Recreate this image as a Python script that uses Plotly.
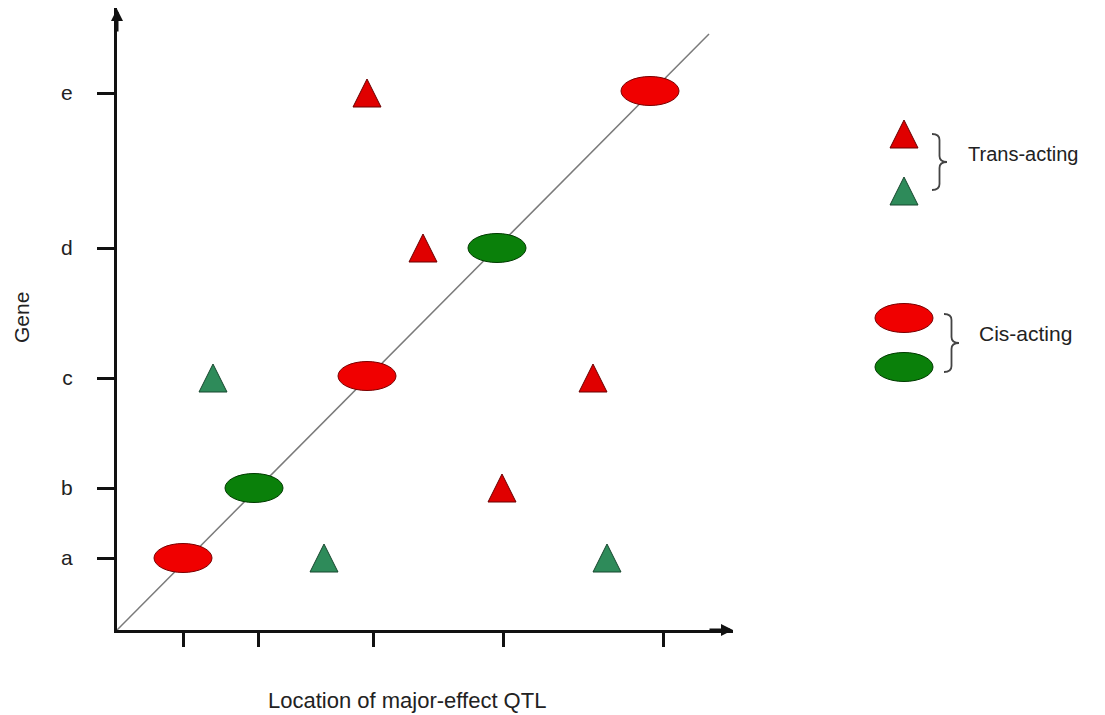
import plotly.graph_objects as go

# ---- data (positions in arbitrary genome units) ----
genes = ["a", "b", "c", "d", "e"]
gene_pos_y = [72, 142, 252, 382, 537]          # gene positions on the gene axis
gene_loc_x = [66, 141, 256, 386, 546]          # gene locations along the genome (x ticks)

cis_red_x = [66, 250, 533]
cis_red_y = [72, 254, 539]
cis_green_x = [137, 380]
cis_green_y = [142, 382]

trans_red_x = [250, 306, 476, 385]
trans_red_y = [537, 382, 252, 142]
trans_green_x = [96, 207, 490]
trans_green_y = [252, 72, 72]

diag_x = [0, 592]
diag_y = [0, 596]

# ---- layout geometry (reference pixel coords; the page body adds an 8px offset) ----
OFF = 8
REF_W, REF_H = 1105, 715
FIG_W, FIG_H = REF_W - OFF, REF_H - OFF
ORIGIN_X, ORIGIN_Y = 117, 630      # axis origin in reference pixels
L = ORIGIN_X - OFF
T = 0
W = 616
H = ORIGIN_Y - OFF - T
X_MAX = W
Y_MAX = H


def px_to_paper(px, py):
    """reference-image pixel -> paper coords"""
    fx = px - OFF
    fy = py - OFF
    return (fx - L) / W, (T + H - fy) / H


RED = "#f00000"
RED_LINE = "#7a0000"
GREEN = "#0a800a"
GREEN_LINE = "#003a00"
TRED = "#e00000"
TRED_LINE = "#6a0000"
TEAL = "#2e8b5a"
TEAL_LINE = "#17472e"

EW, EH = 29, 14.5   # half sizes of ellipse (pixels)
TW, TH = 14, 14     # half sizes of triangle (pixels)

fig = go.Figure()

fig.add_trace(go.Scatter(x=diag_x, y=diag_y, mode="lines",
                         line=dict(color="#7a7a7a", width=1.5),
                         hoverinfo="skip", showlegend=False))

shapes = []


def ellipse(x, y, fill, line, ref="data"):
    d = dict(type="circle", xsizemode="pixel", ysizemode="pixel",
             xanchor=x, yanchor=y, x0=-EW, x1=EW, y0=-EH, y1=EH,
             fillcolor=fill, line=dict(color=line, width=1), layer="above")
    if ref == "data":
        d.update(xref="x", yref="y")
    else:
        d.update(xref="paper", yref="paper")
    return d


def triangle(x, y, fill, line, ref="data"):
    path = f"M {-TW},{-TH} L {TW},{-TH} L 0,{TH} Z"
    d = dict(type="path", xsizemode="pixel", ysizemode="pixel",
             xanchor=x, yanchor=y, path=path,
             fillcolor=fill, line=dict(color=line, width=1), layer="above")
    if ref == "data":
        d.update(xref="x", yref="y")
    else:
        d.update(xref="paper", yref="paper")
    return d


for x, y in zip(cis_red_x, cis_red_y):
    shapes.append(ellipse(x, y, RED, RED_LINE))
for x, y in zip(cis_green_x, cis_green_y):
    shapes.append(ellipse(x, y, GREEN, GREEN_LINE))
for x, y in zip(trans_red_x, trans_red_y):
    shapes.append(triangle(x, y, TRED, TRED_LINE))
for x, y in zip(trans_green_x, trans_green_y):
    shapes.append(triangle(x, y, TEAL, TEAL_LINE))

# invisible hover points
fig.add_trace(go.Scatter(x=cis_red_x + cis_green_x, y=cis_red_y + cis_green_y,
                         mode="markers", marker=dict(size=20, opacity=0),
                         name="Cis-acting", showlegend=False))
fig.add_trace(go.Scatter(x=trans_red_x + trans_green_x, y=trans_red_y + trans_green_y,
                         mode="markers", marker=dict(size=20, opacity=0),
                         name="Trans-acting", showlegend=False))

# ---- custom legend ----
lx, ly = px_to_paper(904, 134)
shapes.append(triangle(lx, ly, TRED, TRED_LINE, ref="paper"))
lx, ly = px_to_paper(904, 191)
shapes.append(triangle(lx, ly, TEAL, TEAL_LINE, ref="paper"))
lx, ly = px_to_paper(904, 318)
shapes.append(ellipse(lx, ly, RED, RED_LINE, ref="paper"))
lx, ly = px_to_paper(904, 367)
shapes.append(ellipse(lx, ly, GREEN, GREEN_LINE, ref="paper"))


def brace(px_left, py_mid, half_h, width):
    w = width
    h = half_h
    m = w / 2
    path = (f"M 0,{h} Q {m},{h} {m},{h-6} L {m},6 Q {m},0 {w},0 "
            f"Q {m},0 {m},-6 L {m},{-h+6} Q {m},{-h} 0,{-h}")
    ax, ay = px_to_paper(px_left, py_mid)
    return dict(type="path", xref="paper", yref="paper",
                xsizemode="pixel", ysizemode="pixel",
                xanchor=ax, yanchor=ay, path=path,
                line=dict(color="#444444", width=1.8), layer="above")


shapes.append(brace(932, 162, 28, 15))
shapes.append(brace(944, 343, 29, 15))

FONT = "Arial, Liberation Sans, sans-serif"
TXT = "#222222"
annotations = []
ax_, ay_ = px_to_paper(966, 154)
annotations.append(dict(text="Trans-acting", xref="paper", yref="paper", x=ax_, y=ay_,
                        xanchor="left", yanchor="middle", showarrow=False,
                        font=dict(family=FONT, size=20, color=TXT)))
ax_, ay_ = px_to_paper(977, 333)
annotations.append(dict(text="Cis-acting", xref="paper", yref="paper", x=ax_, y=ay_,
                        xanchor="left", yanchor="middle", showarrow=False,
                        font=dict(family=FONT, size=21, color=TXT)))
ax_, ay_ = px_to_paper(407, 700)
annotations.append(dict(text="Location of major-effect QTL", xref="paper", yref="paper",
                        x=ax_, y=ay_, xanchor="center", yanchor="middle", showarrow=False,
                        font=dict(family=FONT, size=22, color=TXT)))
ax_, ay_ = px_to_paper(21, 318)
annotations.append(dict(text="Gene", xref="paper", yref="paper", x=ax_, y=ay_,
                        xanchor="center", yanchor="middle", showarrow=False, textangle=-90,
                        font=dict(family=FONT, size=21, color=TXT)))

# axis arrowheads
annotations.append(dict(xref="paper", yref="paper", x=1.0, y=0, ax=-25, ay=0,
                        axref="pixel", ayref="pixel", showarrow=True, arrowhead=2,
                        arrowsize=0.8, arrowwidth=3, arrowcolor="#111111", text=""))
annotations.append(dict(xref="paper", yref="paper", x=0, y=1.0, ax=0, ay=25,
                        axref="pixel", ayref="pixel", showarrow=True, arrowhead=2,
                        arrowsize=0.8, arrowwidth=3, arrowcolor="#111111", text=""))

fig.update_layout(
    width=FIG_W, height=FIG_H,
    margin=dict(l=L, r=FIG_W - L - W, t=T, b=FIG_H - T - H, pad=0),
    paper_bgcolor="white", plot_bgcolor="white",
    shapes=shapes, annotations=annotations,
    showlegend=False,
    xaxis=dict(range=[0, X_MAX], showgrid=False, zeroline=False,
               showline=True, linewidth=3, linecolor="#111111",
               tickmode="array", tickvals=gene_loc_x, ticktext=[""] * len(gene_loc_x),
               ticks="outside", ticklen=14, tickwidth=2.5, tickcolor="#111111",
               showticklabels=False, fixedrange=True),
    yaxis=dict(range=[0, Y_MAX], showgrid=False, zeroline=False,
               showline=True, linewidth=3, linecolor="#111111",
               tickmode="array", tickvals=gene_pos_y, ticktext=genes,
               ticks="outside", ticklen=17, tickwidth=2.5, tickcolor="#111111",
               ticklabelstandoff=20,
               tickfont=dict(family=FONT, size=21, color=TXT), fixedrange=True),
)

fig.write_html("out.html")
